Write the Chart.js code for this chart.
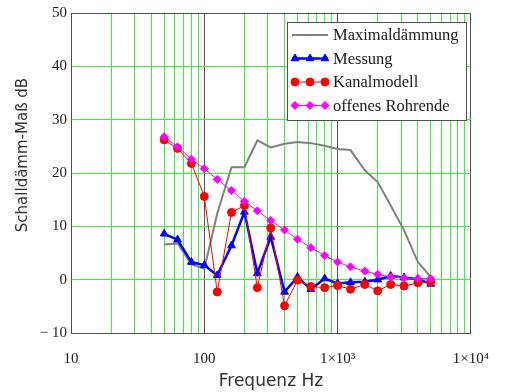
<!DOCTYPE html>
<html><head><meta charset="utf-8">
<script src="https://cdn.jsdelivr.net/npm/chart.js@4"></script>
<style>html,body{margin:0;padding:0;background:#fff}#wrap{width:506px;height:392px}</style>
</head><body><div id="wrap"><canvas id="c" width="506" height="392"></canvas></div>
<script>
const freqs = [50,63,80,100,125,160,200,250,315,400,500,630,800,1000,1250,1600,2000,2500,3150,4000,5000];
const maximaldaemmung = [6.6,6.8,2.9,2.0,12.4,21.1,21.1,26.1,24.8,25.5,25.8,25.6,25.1,24.5,24.3,20.5,18.3,13.9,9.3,3.3,0.5];
const messung = [8.6,7.5,3.3,2.7,0.8,6.4,12.7,1.2,8.0,-2.3,0.5,-1.8,0.2,-0.7,-0.5,-0.4,0.0,0.7,0.4,0.1,-0.8];
const kanalmodell = [26.2,24.6,21.8,15.6,-2.3,12.6,13.9,-1.5,9.7,-4.9,-0.1,-1.3,-1.5,-1.1,-1.8,-0.9,-2.1,-0.9,-1.2,-0.6,-0.4];
const offenesRohrende = [26.8,24.9,22.6,20.8,18.8,16.7,14.7,12.9,11.1,9.3,7.6,6.0,4.5,3.3,2.4,1.6,1.0,0.5,0.3,0.2,0.2];
const seriesNames = ['Maximaldämmung','Messung','Kanalmodell','offenes Rohrende'];
const xTickLabels = {10:'10',100:'100',1000:'1×10³',10000:'1×10⁴'};
const yTicks = [-10,0,10,20,30,40,50];
const xTitle = 'Frequenz Hz';
const yTitle = 'Schalldämm-Maß dB';

const pts = arr => freqs.map((f,i)=>({x:f,y:arr[i]}));
const GREEN = '#3cf03c', DARK = '#505050';

const legendPlugin = {
  id:'boxLegend',
  afterDatasetsDraw(chart){
    const ctx = chart.ctx;
    const x0=287.5, y0=22.5, w=179, h=98;
    ctx.save();
    ctx.fillStyle='#fff'; ctx.fillRect(x0,y0,w,h);
    ctx.strokeStyle=DARK; ctx.lineWidth=1; ctx.strokeRect(x0,y0,w,h);
    ctx.font='16.5px "Liberation Serif", "Times New Roman", serif';
    ctx.textBaseline='middle';
    chart.data.datasets.forEach((ds,i)=>{
      const y = 35 + i*23.5;
      ctx.strokeStyle=ds.borderColor; ctx.lineWidth=ds.borderWidth;
      ctx.beginPath(); ctx.moveTo(292,y); ctx.lineTo(328,y); ctx.stroke();
      if(ds.pointRadius>0){
        ctx.fillStyle=ds.backgroundColor; ctx.strokeStyle=ds.borderColor; ctx.lineWidth=1;
        [295,310,325].forEach(px=>{
          Chart.helpers.drawPoint(ctx,{pointStyle:ds.pointStyle,radius:ds.pointRadius,borderWidth:1},px,y);
        });
      }
      ctx.fillStyle='#1a1a1a';
      ctx.fillText(ds.label,333,y+1);
    });
    // y axis title
    ctx.save();
    ctx.translate(23,155);
    ctx.rotate(-Math.PI/2);
    ctx.font='15px "DejaVu Sans", sans-serif';
    ctx.fillStyle='#333';
    ctx.textAlign='center';
    ctx.textBaseline='middle';
    ctx.fillText(yTitle,0,0);
    ctx.restore();
    ctx.restore();
  }
};

const common = {fill:false, tension:0};
new Chart(document.getElementById('c'),{
  type:'line',
  data:{datasets:[
    {...common,label:seriesNames[0],data:pts(maximaldaemmung),borderColor:'#808080',backgroundColor:'#808080',borderWidth:2,pointRadius:0,order:4},
    {...common,label:seriesNames[1],data:pts(messung),borderColor:'#0000ff',backgroundColor:'#0000ff',borderWidth:2.5,pointStyle:'triangle',pointRadius:4.5,pointBorderWidth:1,order:3},
    {...common,label:seriesNames[2],data:pts(kanalmodell),borderColor:'#ff0000',backgroundColor:'#ff0000',borderWidth:1,pointStyle:'circle',pointRadius:4,pointBorderWidth:1,order:2},
    {...common,label:seriesNames[3],data:pts(offenesRohrende),borderColor:'#ff00ff',backgroundColor:'#ff00ff',borderWidth:1,pointStyle:'rectRot',pointRadius:4,pointBorderWidth:1,order:1}
  ]},
  options:{
    responsive:false, animation:false, devicePixelRatio:1,
    layout:{padding:{top:12,right:29,left:0,bottom:0}},
    plugins:{legend:{display:false},tooltip:{enabled:false}},
    scales:{
      x:{type:'logarithmic',min:10,max:10000,
        afterBuildTicks(s){const t=[];for(let d=10;d<=10000;d*=10){for(let m=1;m<=9;m++){const v=d*m;if(v<=10000)t.push({value:v});}}s.ticks=t;},
        afterFit(s){s.height=59;},
        grid:{drawTicks:false,lineWidth:1,color:c=>{const v=c.tick&&c.tick.value;return (v===10||v===100||v===1000||v===10000)?DARK:GREEN;}},
        border:{display:true,color:DARK,width:1},
        ticks:{autoSkip:false,maxRotation:0,padding:17,color:'#1a1a1a',font:{family:'"Liberation Serif", serif',size:15},
          callback:(v)=>xTickLabels[v]||''},
        title:{display:true,text:xTitle,color:'#333',font:{family:'"DejaVu Sans", sans-serif',size:17},padding:{top:0,bottom:0}}
      },
      y:{type:'linear',min:-10,max:50,
        afterBuildTicks(s){s.ticks=yTicks.map(v=>({value:v}));},
        afterFit(s){s.width=71;},
        grid:{drawTicks:false,lineWidth:1,color:c=>{const v=c.tick&&c.tick.value;return (v===-10||v===50)?DARK:GREEN;}},
        border:{display:true,color:DARK,width:1},
        ticks:{padding:4,color:'#1a1a1a',font:{family:'"Liberation Serif", serif',size:15},
          callback:v=>v<0?'− '+Math.abs(v):String(v)}
      }
    }
  },
  plugins:[legendPlugin]
});
</script></body></html>
